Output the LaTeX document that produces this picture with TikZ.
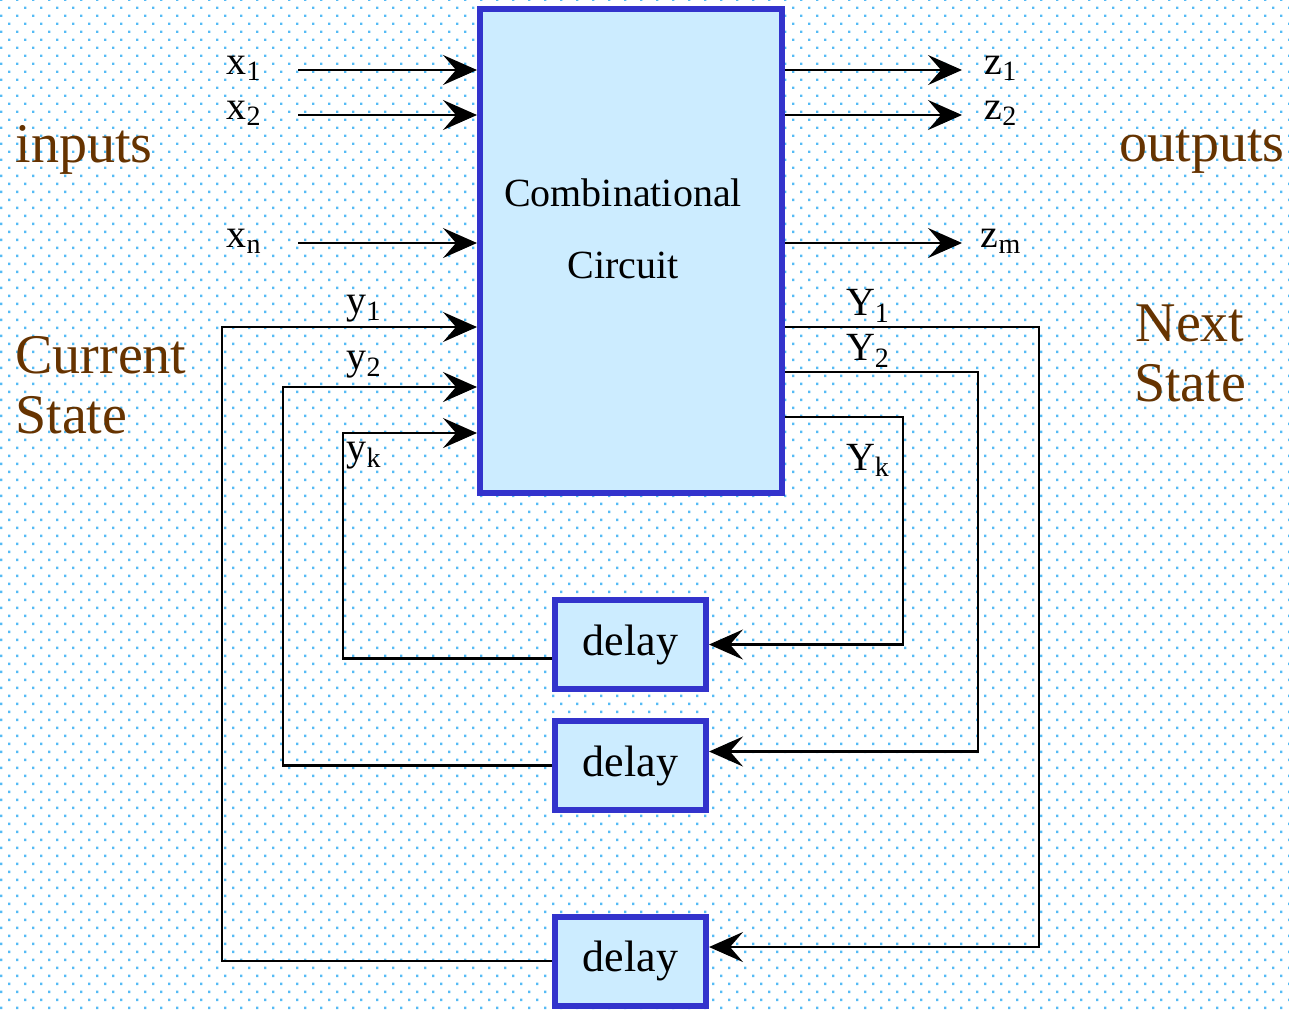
\documentclass[tikz,border=0pt]{standalone}
\usepackage{fontspec}
\setmainfont{Liberation Serif}
\usetikzlibrary{arrows.meta}
\usetikzlibrary{patterns}
\usetikzlibrary{positioning}
\usetikzlibrary{calc}

\definecolor{boxfill}{HTML}{CCECFF}
\definecolor{boxline}{HTML}{3333CC}
\definecolor{brownish}{HTML}{663300}
\definecolor{dotblue}{HTML}{55BBF5}

\pgfdeclarepatternformonly{bgdots}{\pgfpoint{-0.1pt}{-0.1pt}}{\pgfpoint{8.1pt}{8.1pt}}{\pgfpoint{8pt}{8pt}}{%
  \pgfpathrectangle{\pgfpoint{0pt}{0pt}}{\pgfpoint{1.2pt}{1.2pt}}%
  \pgfpathrectangle{\pgfpoint{4pt}{4pt}}{\pgfpoint{1.2pt}{1.2pt}}%
  \pgfusepath{fill}}

\tikzset{
  block/.style={draw=boxline, fill=boxfill, line width=3pt, inner sep=0pt},
  delaybox/.style={block, minimum width=75.5pt, minimum height=44.5pt, font=\fontsize{22}{26}\selectfont},
  sig/.style={line width=1.1pt, -{Stealth[length=17pt,width=15pt,inset=6.5pt]}},
  lbl/.style={font=\fontsize{20}{24}\selectfont, inner sep=0pt},
  big/.style={font=\fontsize{28}{30}\selectfont, text=brownish, inner sep=0pt},
}

\begin{document}
\begin{tikzpicture}[x=0.5pt, y=-0.5pt]

% background
\fill[white] (0,0) rectangle (1289,1009);
\fill[pattern=bgdots, pattern color=dotblue] (0,0) rectangle (1289,1009);
\useasboundingbox (0,0) rectangle (1289,1009);

% combinational block and delays
\node[block, minimum width=151pt, minimum height=242pt] (cc) at (631,251) {};
\node[align=center, font=\fontsize{20}{36}\selectfont, inner sep=0pt] (cctxt) at (623,229) {Combinational\\Circuit};

\node[delaybox] (d1) at (630.5,644.5) {delay};
\node[delaybox] (d2) at (630.5,765.5) {delay};
\node[delaybox] (d3) at (630.5,961) {delay};

% side titles
\node[big] (inlbl) at (84,150) {inputs};
\node[big] (outlbl) at (1202,152) {outputs};
\node[big, anchor=west, align=left] (cslbl) at (15,385) {Current\\State};
\node[big, align=center] (nslbl) at (1190,353) {Next\\State};

% inputs and outputs
\foreach \nm/\yy in {1/70, 2/115, n/243} {
  \coordinate (xin\nm) at (298,\yy);
  \draw[sig] (xin\nm) -- (xin\nm -| cc.west);
  \node[lbl] (xlbl\nm) at (244,\yy-2) {x\textsubscript{\nm}};
}
\foreach \nm/\yy in {1/70, 2/115, m/243} {
  \coordinate (zout\nm) at (962,\yy);
  \draw[sig] (zout\nm -| cc.east) -- (zout\nm);
  \node[lbl] (zlbl\nm) at (1001,\yy-2) {z\textsubscript{\nm}};
}

% next state to delays
\coordinate (Yc1) at (1039,327);
\coordinate (Yc2) at (978,372);
\coordinate (Yck) at (903,417);
\draw[sig] (cc.east |- Yc1) -- (Yc1) |- ([yshift=7pt]d3.east);
\draw[sig] (cc.east |- Yc2) -- (Yc2) |- ([yshift=7pt]d2.east);
\draw[sig] (cc.east |- Yck) -- (Yck) |- (d1.east);

% delays back to current state
\coordinate (yc1) at (222,327);
\coordinate (yc2) at (283,387);
\coordinate (yck) at (343,433);
\draw[sig] (d3.west) -| (yc1) -- (yc1 -| cc.west);
\draw[sig] (d2.west) -| (yc2) -- (yc2 -| cc.west);
\draw[sig] ([yshift=-7pt]d1.west) -| (yck) -- (yck -| cc.west);

% state labels
\node[lbl] (ylbl1) at (364,309) {y\textsubscript{1}};
\node[lbl] (ylbl2) at (364,365) {y\textsubscript{2}};
\node[lbl] (ylblk) at (364,456) {y\textsubscript{k}};
\node[lbl] (Ylbl1) at (868,306) {Y\textsubscript{1}};
\node[lbl] (Ylbl2) at (868,351) {Y\textsubscript{2}};
\node[lbl] (Ylblk) at (868,460) {Y\textsubscript{k}};

\end{tikzpicture}
\end{document}
